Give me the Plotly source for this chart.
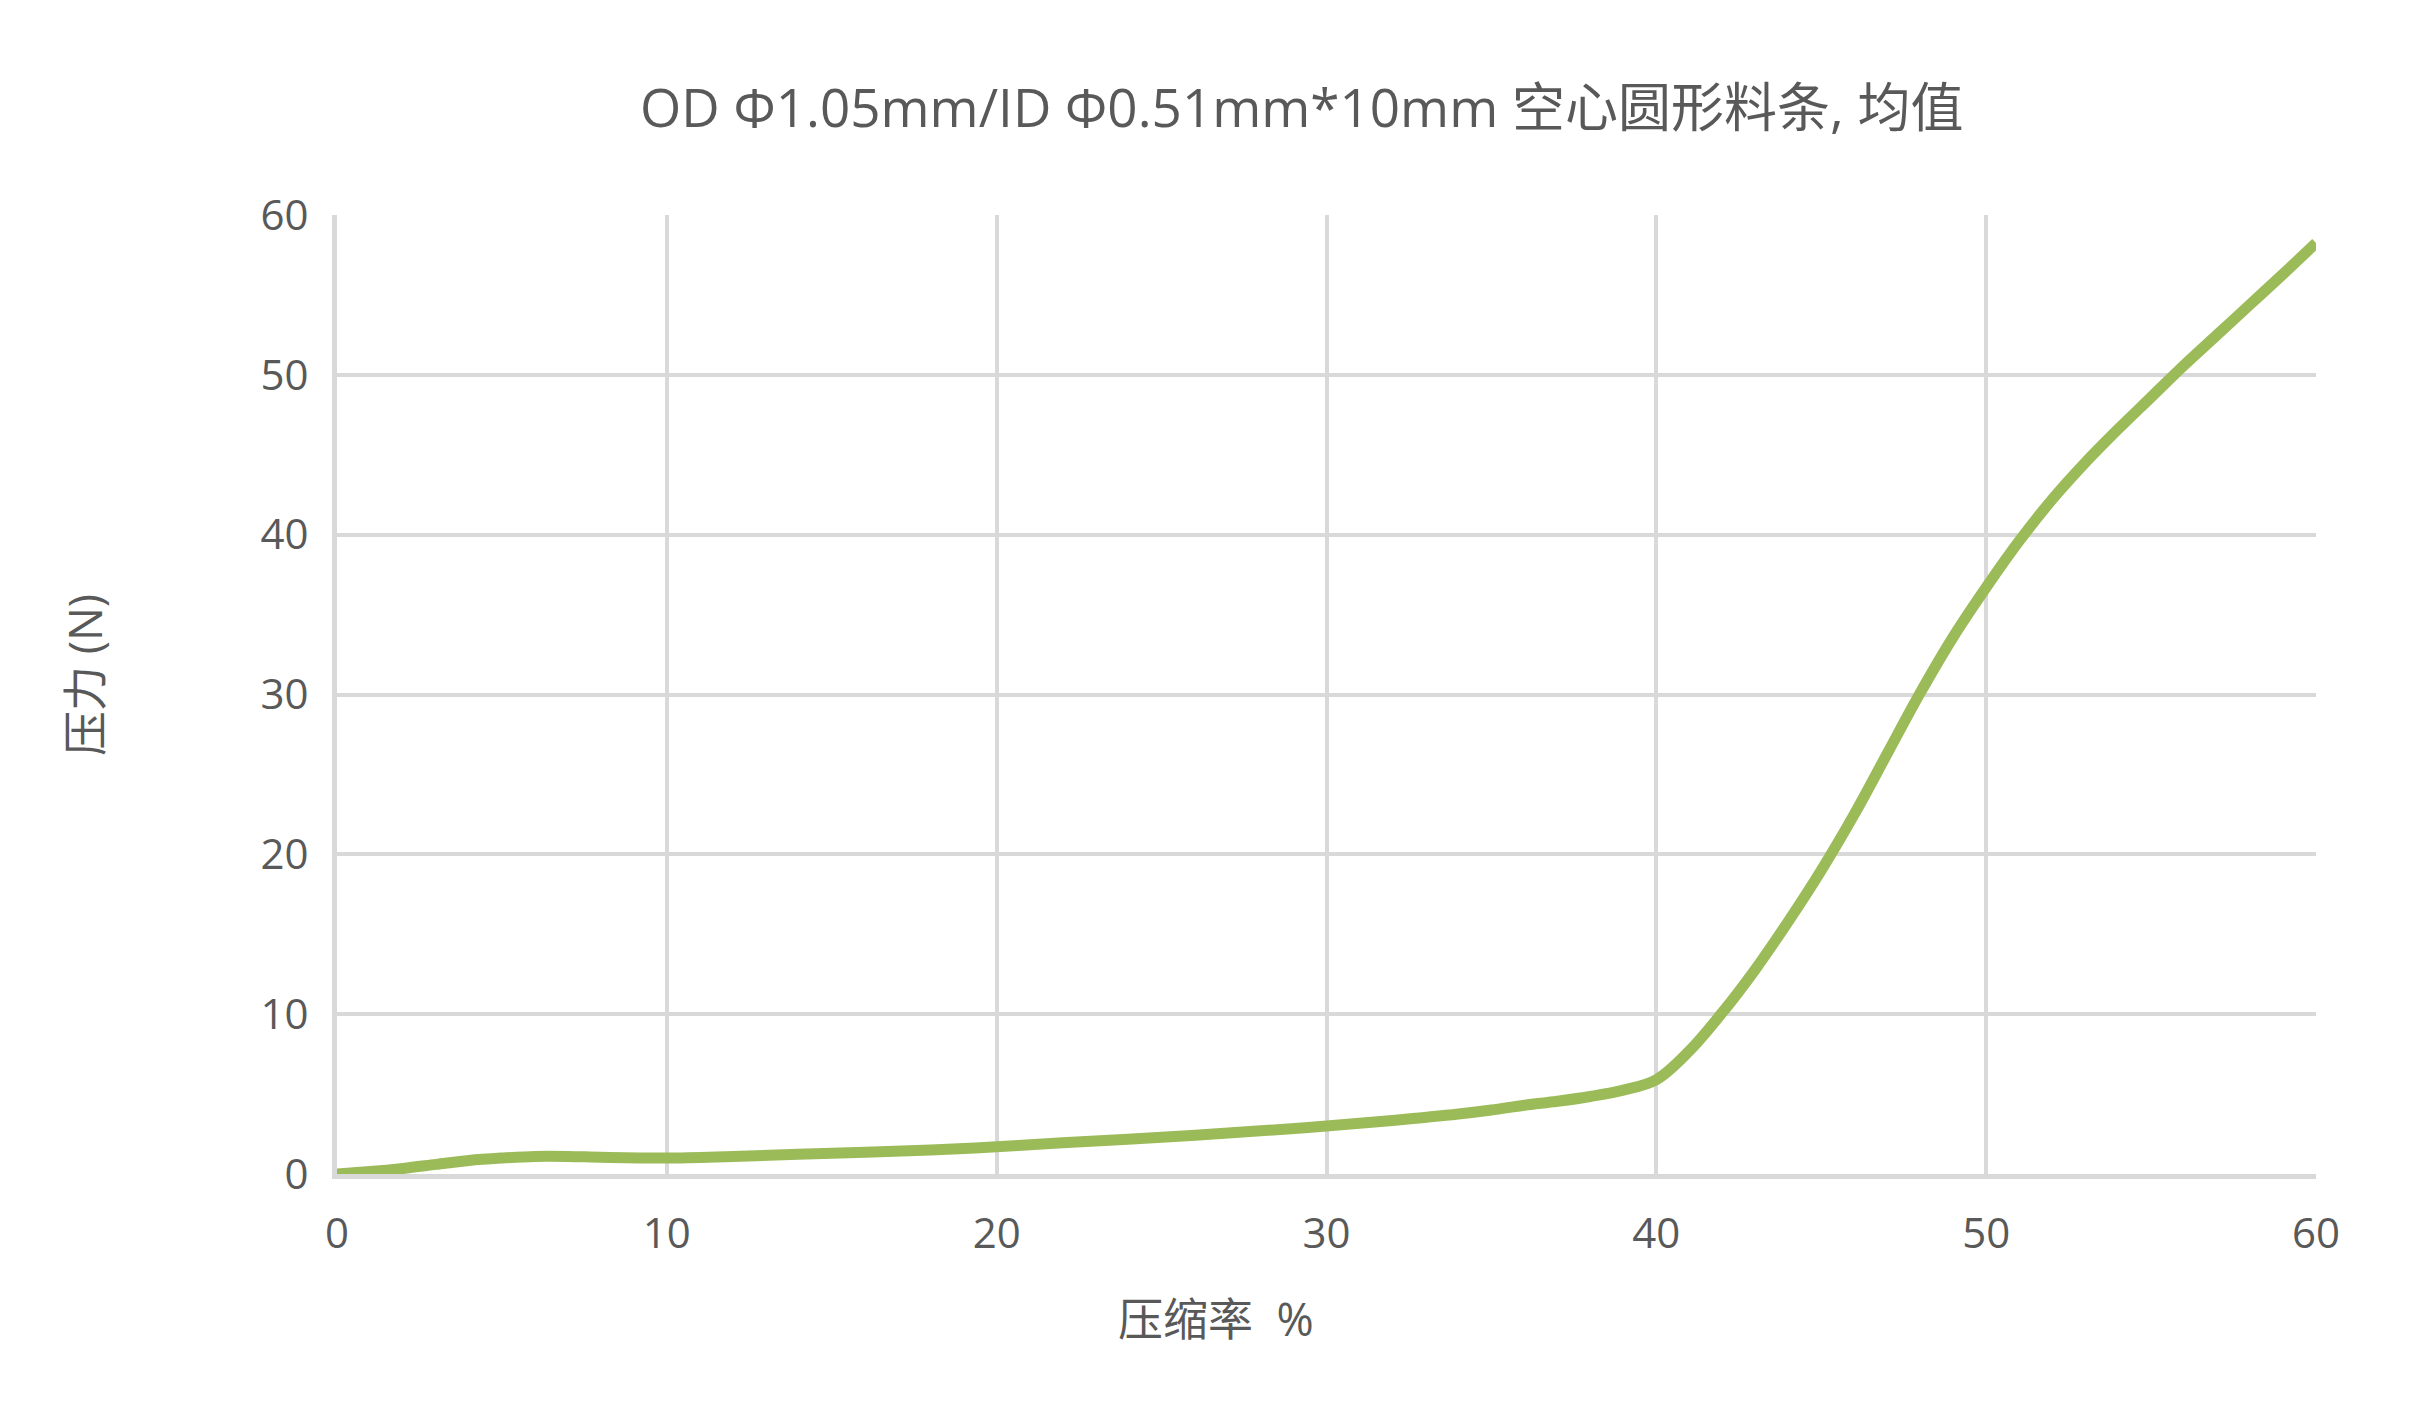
import plotly.graph_objects as go

compression_pct = [0, 1, 2, 3, 4, 5, 6, 7, 8, 10, 12, 15, 18, 20, 22, 25, 28, 30, 32, 34, 35, 36, 37, 38, 39, 40,
                   41, 42, 43, 44, 45, 46, 47, 48, 49, 50, 51, 52, 53, 54, 55, 56, 57, 58, 59, 60]
force_n = [0, 0.15, 0.35, 0.6, 0.85, 1.0, 1.1, 1.1, 1.05, 1.0, 1.1, 1.3, 1.5, 1.7, 1.95, 2.3, 2.7, 3.0, 3.35, 3.75, 4.0, 4.3, 4.55, 4.85, 5.25, 5.9,
           7.7, 10.1, 12.8, 15.8, 19.0, 22.5, 26.3, 30.1, 33.6, 36.7, 39.6, 42.2, 44.5, 46.6, 48.6, 50.6, 52.5, 54.4, 56.3, 58.25]

x_ticks = [0, 10, 20, 30, 40, 50, 60]
y_ticks = [0, 10, 20, 30, 40, 50, 60]

title_text = "OD Φ1.05mm/ID Φ0.51mm*10mm 空心圆形料条, 均值"
x_title = "压缩率  %"
y_title = "压力 (N)"

FONT = "Open Sans, Noto Sans CJK SC, sans-serif"
TXT = "#595959"
GRID = "#D9D9D9"

fig = go.Figure()
fig.add_trace(go.Scatter(
    x=compression_pct, y=force_n, mode="lines",
    line=dict(color="#9BBB59", width=11, shape="spline", smoothing=1.0),
    showlegend=False, hoverinfo="x+y",
))

# page body has an 8px default margin, so the figure is laid out 8px smaller
fig.update_layout(
    width=2422, height=1394,
    margin=dict(l=329, r=113.5, t=206.5, b=228, autoexpand=False),
    paper_bgcolor="white", plot_bgcolor="white",
    font=dict(family=FONT, color=TXT, size=42),
    showlegend=False,
    annotations=[
        dict(text=title_text, xref="paper", yref="paper", x=0.4875, y=1.113,
             xanchor="center", yanchor="middle", showarrow=False,
             font=dict(size=53, color=TXT, family=FONT)),
        dict(text=x_title, xref="paper", yref="paper", x=0.444, y=-0.151,
             xanchor="center", yanchor="middle", showarrow=False,
             font=dict(size=45, color=TXT, family=FONT)),
        dict(text=y_title, xref="paper", yref="paper", x=-0.1275, y=0.52,
             xanchor="center", yanchor="middle", showarrow=False, textangle=-90,
             font=dict(size=45, color=TXT, family=FONT)),
    ],
)
fig.update_xaxes(
    range=[0, 60], tickvals=x_ticks, ticktext=[str(v) for v in x_ticks],
    showgrid=True, gridcolor=GRID, gridwidth=4,
    showline=True, linecolor=GRID, linewidth=5, mirror=False,
    zeroline=False, ticks="", ticklabelstandoff=19,
    tickfont=dict(size=42, color=TXT, family=FONT),
)
fig.update_yaxes(
    range=[0, 60], tickvals=y_ticks, ticktext=[str(v) for v in y_ticks],
    showgrid=True, gridcolor=GRID, gridwidth=4,
    showline=True, linecolor=GRID, linewidth=5,
    zeroline=False, ticks="", ticklabelstandoff=15,
    tickfont=dict(size=42, color=TXT, family=FONT),
)

fig.write_html("out.html")
